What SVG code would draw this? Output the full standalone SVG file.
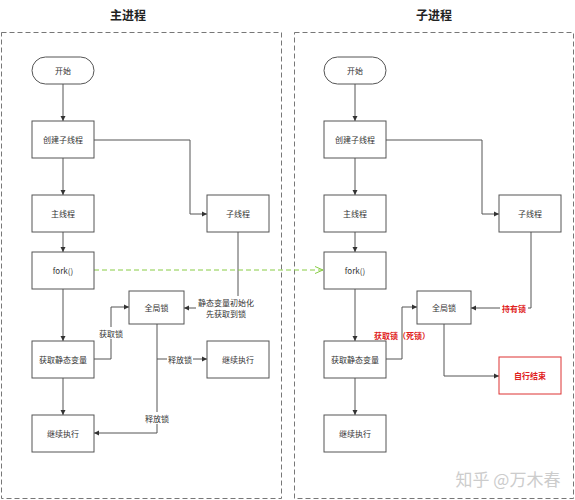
<svg xmlns="http://www.w3.org/2000/svg" width="575" height="500" viewBox="0 0 575 500">
<defs>
<style>
.panel{fill:none;stroke:#777;stroke-width:1;stroke-dasharray:5,3}
.box{fill:#fff;stroke:#555;stroke-width:1}
.red{fill:#fff;stroke:#d33;stroke-width:1}
.t{font-family:"Noto Sans CJK SC","Noto Sans",sans-serif;font-size:8px;fill:#333;text-anchor:middle;dominant-baseline:central}
.rt{font-family:"Noto Sans CJK SC",sans-serif;font-size:8px;fill:#e02020;font-weight:bold;text-anchor:middle;dominant-baseline:central}
.title{font-family:"Noto Sans CJK SC",sans-serif;font-size:12px;font-weight:bold;fill:#222;text-anchor:middle;dominant-baseline:central}
.c{fill:none;stroke:#555;stroke-width:1;marker-end:url(#a)}
.g{fill:none;stroke:#8c4;stroke-width:1;stroke-dasharray:5,3;marker-end:url(#ga)}
.lbl{fill:#fff}
</style>
<marker id="a" markerWidth="6" markerHeight="6" refX="5" refY="3" orient="auto" markerUnits="userSpaceOnUse"><path d="M0,0.5 L5,3 L0,5.5 Z" fill="#333"/></marker>
<marker id="ga" markerWidth="10" markerHeight="8" refX="8" refY="4" orient="auto" markerUnits="userSpaceOnUse"><path d="M0,0.5 L8,4 L0,7.5" fill="none" stroke="#8c4" stroke-width="1"/></marker>
</defs>
<rect width="575" height="500" fill="#fff"/>
<text class="title" x="128" y="14">主进程</text>
<text class="title" x="434" y="14">子进程</text>
<rect class="panel" x="1.5" y="32.5" width="280" height="466"/>
<rect class="panel" x="294.5" y="32.5" width="279" height="466"/>
<g id="connectors">
<path class="c" d="M63,84 V121"/>
<path class="c" d="M63,158 V195"/>
<path class="c" d="M63,232 V252"/>
<path class="c" d="M63,289 V341"/>
<path class="c" d="M63,378 V415"/>
<path class="c" d="M94,140 H190 V214 H207"/>
<path class="c" d="M238,232 V308 H184"/>
<path class="c" d="M94,359 H111 V307 H129"/>
<path class="c" d="M157,324 V433 H94"/>
<path class="c" d="M157,359 H207"/>
<path class="g" d="M94,270 H323"/>
<path class="c" d="M355,84 V121"/>
<path class="c" d="M355,158 V195"/>
<path class="c" d="M355,232 V252"/>
<path class="c" d="M355,289 V341"/>
<path class="c" d="M355,378 V415"/>
<path class="c" d="M386,140 H482 V214 H499"/>
<path class="c" d="M531,232 V308 H471"/>
<path class="c" d="M386,359 H402 V307 H417"/>
<path class="c" d="M444,324 V376 H499"/>
<rect class="lbl" x="196" y="296" width="60" height="24"/>
<text class="t" x="226" y="302">静态变量初始化</text>
<text class="t" x="226" y="313">先获取到锁</text>
<rect class="lbl" x="98" y="327" width="26" height="12"/>
<text class="t" x="111" y="333">获取锁</text>
<rect class="lbl" x="167" y="353" width="26" height="12"/>
<text class="t" x="180" y="359">释放锁</text>
<rect class="lbl" x="144" y="412" width="26" height="12"/>
<text class="t" x="157" y="418">释放锁</text>
<rect class="lbl" x="500" y="302" width="28" height="12"/>
<text class="rt" x="514" y="308">持有锁</text>
<text class="rt" x="402" y="335">获取锁（死锁）</text>
</g>
<g id="m-start"><rect class="box" x="32" y="57" width="62" height="27" rx="13.5"/><text class="t" x="63" y="70.5">开始</text></g>
<g id="m-create"><rect class="box" x="32" y="121" width="62" height="37"/><text class="t" x="63" y="139.5">创建子线程</text></g>
<g id="m-main"><rect class="box" x="32" y="195" width="62" height="37"/><text class="t" x="63" y="213.5">主线程</text></g>
<g id="m-fork"><rect class="box" x="32" y="252" width="62" height="37"/><text class="t" x="63" y="270.5">fork()</text></g>
<g id="m-get"><rect class="box" x="32" y="341" width="62" height="37"/><text class="t" x="63" y="359.5">获取静态变量</text></g>
<g id="m-cont"><rect class="box" x="32" y="415" width="62" height="37"/><text class="t" x="63" y="433.5">继续执行</text></g>
<g id="m-sub"><rect class="box" x="207" y="195" width="62" height="37"/><text class="t" x="238" y="213.5">子线程</text></g>
<g id="m-lock"><rect class="box" x="129" y="291" width="55" height="33"/><text class="t" x="156.5" y="307.5">全局锁</text></g>
<g id="m-cont2"><rect class="box" x="207" y="341" width="62" height="37"/><text class="t" x="238" y="359.5">继续执行</text></g>
<g id="c-start"><rect class="box" x="324" y="57" width="62" height="27" rx="13.5"/><text class="t" x="355" y="70.5">开始</text></g>
<g id="c-create"><rect class="box" x="324" y="121" width="62" height="37"/><text class="t" x="355" y="139.5">创建子线程</text></g>
<g id="c-main"><rect class="box" x="324" y="195" width="62" height="37"/><text class="t" x="355" y="213.5">主线程</text></g>
<g id="c-fork"><rect class="box" x="324" y="252" width="62" height="37"/><text class="t" x="355" y="270.5">fork()</text></g>
<g id="c-get"><rect class="box" x="324" y="341" width="62" height="37"/><text class="t" x="355" y="359.5">获取静态变量</text></g>
<g id="c-cont"><rect class="box" x="324" y="415" width="62" height="37"/><text class="t" x="355" y="433.5">继续执行</text></g>
<g id="c-sub"><rect class="box" x="499" y="195" width="62" height="37"/><text class="t" x="530" y="213.5">子线程</text></g>
<g id="c-lock"><rect class="box" x="417" y="291" width="54" height="33"/><text class="t" x="444" y="307.5">全局锁</text></g>
<g id="c-end"><rect class="red" x="499" y="357" width="62" height="37"/><text class="rt" x="530" y="375.5">自行结束</text></g>
<text x="508" y="478" font-family="Noto Sans CJK SC,sans-serif" font-size="17" fill="#ccc" text-anchor="middle" dominant-baseline="central">知乎 @万木春</text>
</svg>
